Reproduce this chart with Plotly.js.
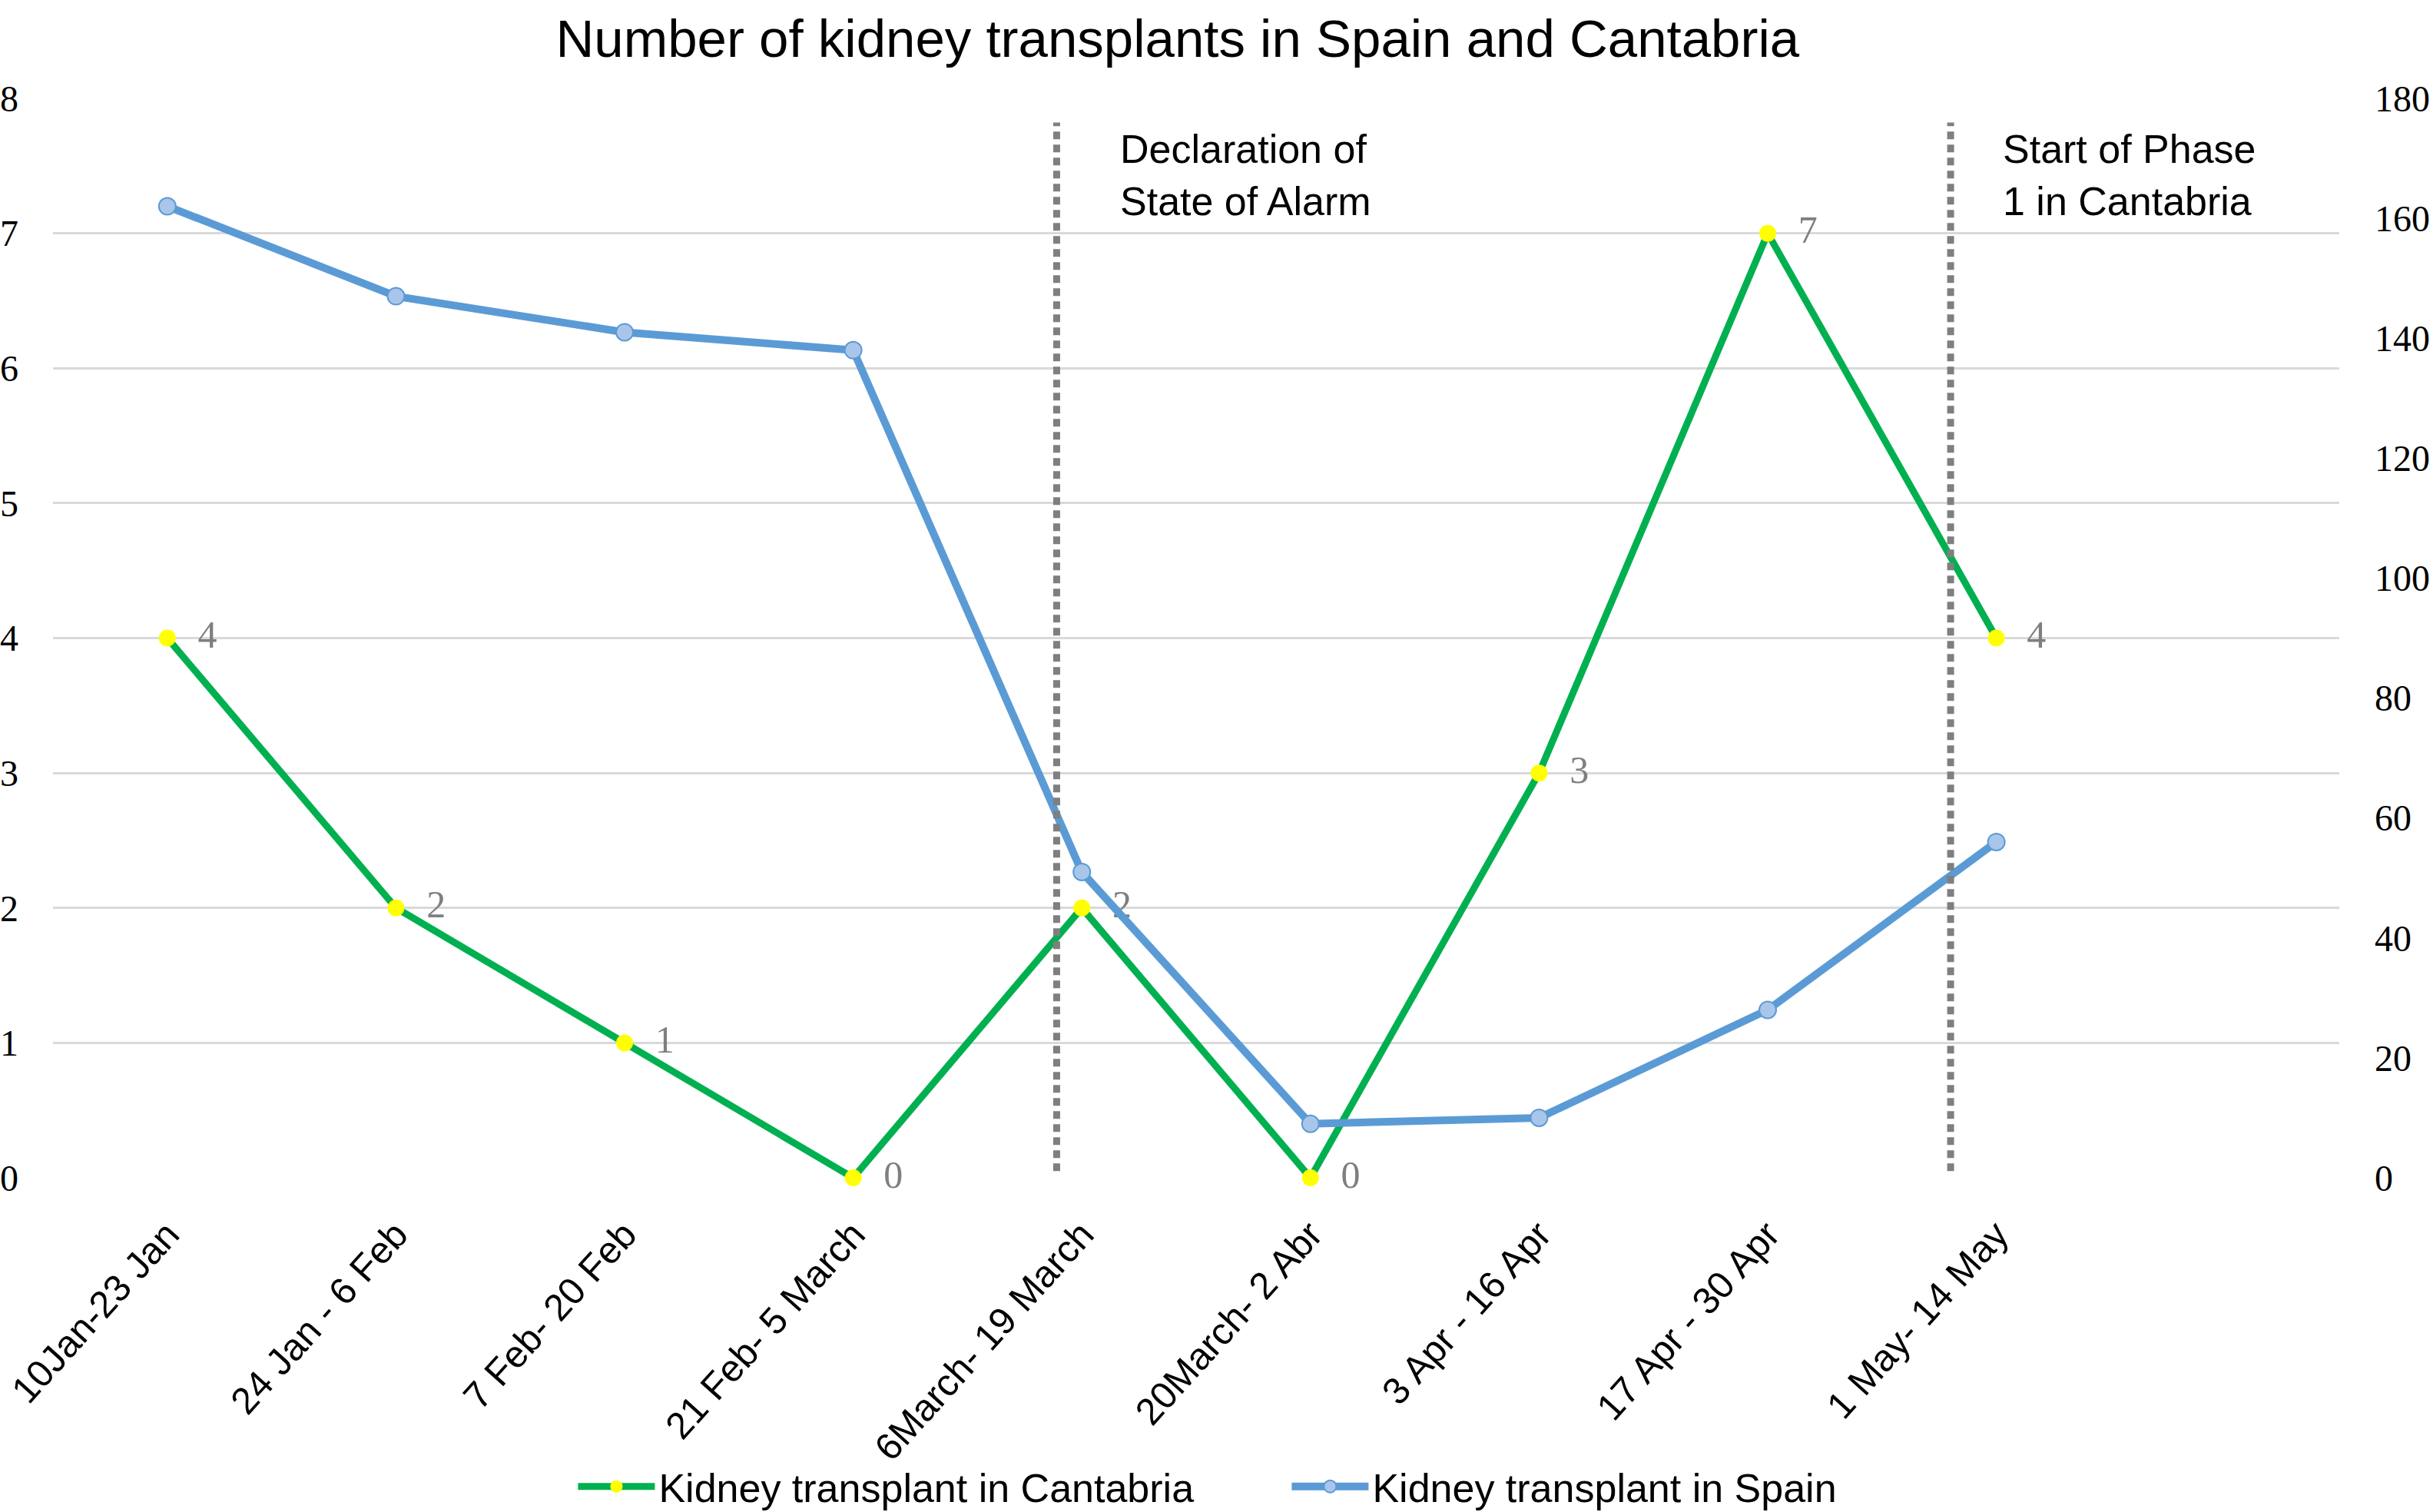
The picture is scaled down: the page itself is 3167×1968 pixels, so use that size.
<!DOCTYPE html>
<html>
<head>
<meta charset="utf-8">
<script src="https://cdn.plot.ly/plotly-3.0.1.min.js"></script>
<style>
  html, body { margin: 0; padding: 0; background: #fff; }
  #chart { width: 3167px; height: 1968px; }
</style>
</head>
<body>
<div id="chart"></div>
<script>
// two-week periods, Jan - May 2020
var periods = ['10Jan-23 Jan', '24 Jan - 6 Feb', '7 Feb- 20 Feb', '21 Feb- 5 March',
  '6March- 19 March', '20March- 2 Abr', '3 Apr - 16 Apr', '17 Apr - 30 Apr', '1 May- 14 May'];
var cantabria = [4, 2, 1, 0, 2, 0, 3, 7, 4];
var spain = [162, 147, 141, 138, 51, 9, 10, 28, 56];

// events marked with a dotted line (position in category units)
var eventAt = [3.89, 7.8];
var eventTextAt = [4.16, 8.02];
var eventText = ['Declaration of<br>State of Alarm', 'Start of Phase<br>1 in Cantabria'];

var sans = 'Liberation Sans, Arial, sans-serif';
var serif = 'Liberation Serif, Times New Roman, serif';

var cant = {
  x: periods,
  y: cantabria,
  name: 'Kidney transplant in Cantabria',
  type: 'scatter',
  mode: 'lines+markers+text',
  cliponaxis: false,
  line: {color: '#00b050', width: 9},
  marker: {color: '#ffff00', size: 22},
  text: cantabria.map(String),
  texttemplate: '\u00a0\u00a0%{text}',
  textposition: 'middle right',
  textfont: {family: serif, size: 50, color: '#7f7f7f'}
};

var spa = {
  x: periods,
  y: spain,
  yaxis: 'y2',
  name: 'Kidney transplant in Spain',
  type: 'scatter',
  mode: 'lines+markers',
  cliponaxis: false,
  line: {color: '#5b9bd5', width: 10},
  marker: {color: '#a9c6ea', size: 22, line: {color: '#5b9bd5', width: 2}}
};

var shapes = eventAt.map(function(p) {
  return {
    type: 'line', xref: 'x', yref: 'y',
    x0: p, x1: p, y0: 0.05, y1: 7.82,
    line: {color: '#7f7f7f', width: 9, dash: '10px,7px'}
  };
});

var annotations = eventTextAt.map(function(p, i) {
  return {
    xref: 'x', yref: 'y', x: p, y: 7.8,
    xanchor: 'left', yanchor: 'top', align: 'left',
    text: eventText[i], showarrow: false,
    font: {family: sans, size: 52, color: '#000'}
  };
});

var layout = {
  width: 3167,
  height: 1968,
  margin: {l: 69, r: 122, t: 128, b: 435},
  paper_bgcolor: '#fff',
  plot_bgcolor: '#fff',
  title: {
    text: 'Number of kidney transplants in Spain and Cantabria',
    font: {family: sans, size: 69, color: '#000'},
    x: 0.484, xanchor: 'center',
    y: 0.987, yanchor: 'top', yref: 'container'
  },
  xaxis: {
    type: 'category',
    range: [-0.5, 9.5],
    showgrid: false,
    zeroline: false,
    showline: false,
    ticks: '',
    tickangle: -48,
    ticklabelstandoff: 34,
    tickfont: {family: sans, size: 49, color: '#000'}
  },
  yaxis: {
    range: [0, 8],
    dtick: 1,
    showgrid: true,
    gridcolor: '#d9d9d9',
    gridwidth: 3,
    zeroline: false,
    showline: false,
    ticks: '',
    ticklabelstandoff: 44,
    tickfont: {family: serif, size: 48, color: '#000'}
  },
  yaxis2: {
    overlaying: 'y',
    side: 'right',
    range: [0, 180],
    dtick: 20,
    showgrid: false,
    zeroline: false,
    showline: false,
    ticks: '',
    ticklabelstandoff: 45,
    tickfont: {family: serif, size: 48, color: '#000'}
  },
  legend: {
    orientation: 'h',
    xref: 'container', yref: 'container',
    x: 0.236, xanchor: 'left',
    y: 0.0168, yanchor: 'middle',
    bgcolor: 'rgba(0,0,0,0)',
    itemwidth: 100,
    entrywidth: 814,
    font: {family: sans, size: 52, color: '#000'}
  },
  shapes: shapes,
  annotations: annotations
};

Plotly.newPlot('chart', [cant, spa], layout, {displayModeBar: false});
</script>
</body>
</html>
